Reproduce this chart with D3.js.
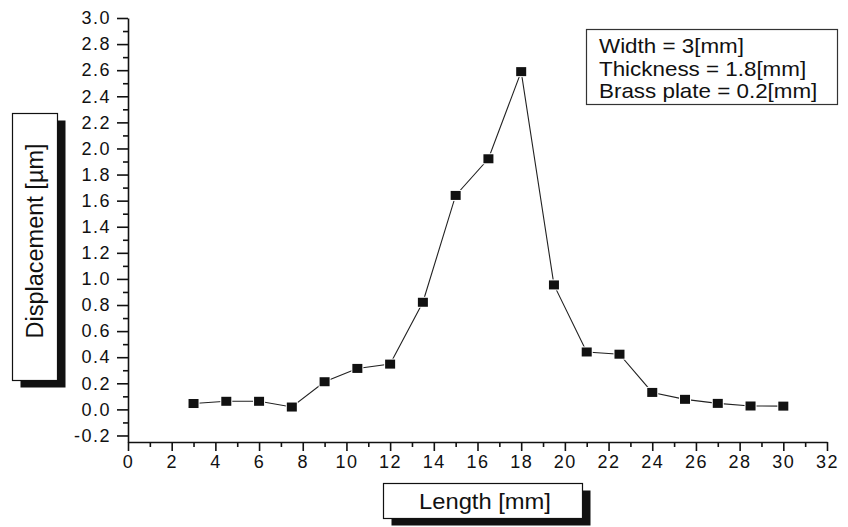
<!DOCTYPE html>
<html>
<head>
<meta charset="utf-8">
<script src="https://cdn.jsdelivr.net/npm/d3@7"></script>
<style>
  html, body { margin: 0; padding: 0; background: #fff; }
  svg { display: block; font-family: "Liberation Sans", Arial, Helvetica, sans-serif; }
</style>
</head>
<body>
<div id="vis"></div>
<script>
// data
var lengths = [3, 4.5, 6, 7.5, 9, 10.5, 12, 13.5, 15, 16.5, 18, 19.5, 21, 22.5, 24, 25.5, 27, 28.5, 30];
var displacements = [0.045, 0.062, 0.062, 0.018, 0.212, 0.314, 0.347, 0.821, 1.64, 1.921, 2.589, 0.954, 0.44, 0.423, 0.13, 0.077, 0.046, 0.026, 0.025];

var xTicks = d3.range(0, 33, 2);
var xMinorTicks = d3.range(1, 32, 2);
var yTicks = [-0.2, 0.0, 0.2, 0.4, 0.6, 0.8, 1.0, 1.2, 1.4, 1.6, 1.8, 2.0, 2.2, 2.4, 2.6, 2.8, 3.0];
var yMinorTicks = [-0.1, 0.1, 0.3, 0.5, 0.7, 0.9, 1.1, 1.3, 1.5, 1.7, 1.9, 2.1, 2.3, 2.5, 2.7, 2.9];

var xTitle = 'Length [mm]';
var yTitle = 'Displacement [\u00b5m]';
var legendLines = ['Width = 3[mm]', 'Thickness = 1.8[mm]', 'Brass plate = 0.2[mm]'];

// layout
var width = 848;
var height = 527;
var margin = { top: 18, left: 128, bottom: 85, right: 21 };

var svg = d3.select('#vis').append('svg')
  .attr('width', width)
  .attr('height', height);

var x = d3.scaleLinear()
  .domain([0, 32])
  .range([margin.left, width - margin.right]);
var y = d3.scaleLinear()
  .domain([-0.25, 3.0])
  .range([height - margin.bottom, margin.top]);

var fmt = function (d) { return d.toFixed(1).replace('\u2212', '-'); };

// x axis
svg.append('g')
  .attr('transform', 'translate(0,' + y.range()[0] + ')')
  .call(d3.axisBottom(x).tickValues(xTicks).tickSize(9).tickPadding(4).tickSizeOuter(0));
svg.append('g')
  .attr('transform', 'translate(0,' + y.range()[0] + ')')
  .call(d3.axisBottom(x).tickValues(xMinorTicks).tickSize(5).tickFormat('').tickSizeOuter(0))
  .select('.domain').remove();

// y axis
svg.append('g')
  .attr('transform', 'translate(' + x.range()[0] + ',0)')
  .call(d3.axisLeft(y).tickValues(yTicks).tickSize(11).tickPadding(6).tickFormat(fmt).tickSizeOuter(0));
svg.append('g')
  .attr('transform', 'translate(' + x.range()[0] + ',0)')
  .call(d3.axisLeft(y).tickValues(yMinorTicks).tickSize(5).tickFormat('').tickSizeOuter(0))
  .select('.domain').remove();

svg.selectAll('.domain, .tick line')
  .attr('stroke', '#111')
  .attr('stroke-width', 1.6);
svg.selectAll('.tick text')
  .attr('fill', '#111')
  .style('font-size', '18px')
  .style('letter-spacing', '1.5px');

// line + markers
var pts = lengths.map(function (d, i) { return [d, displacements[i]]; });
var line = d3.line()
  .x(function (d) { return x(d[0]); })
  .y(function (d) { return y(d[1]); });

svg.append('path')
  .datum(pts)
  .attr('d', line)
  .attr('fill', 'none')
  .attr('stroke', '#222')
  .attr('stroke-width', 1.1);

svg.selectAll('.marker')
  .data(pts)
  .enter().append('rect')
  .attr('class', 'marker')
  .attr('x', function (d) { return x(d[0]) - 5; })
  .attr('y', function (d) { return y(d[1]) - 4.5; })
  .attr('width', 10)
  .attr('height', 9)
  .attr('fill', '#111')
  .attr('stroke', '#fff')
  .attr('stroke-width', 2)
  .style('paint-order', 'stroke');

// framed titles with drop shadow
function shadowBox(bx, by, bw, bh) {
  svg.append('rect')
    .attr('x', bx + 8).attr('y', by + 7)
    .attr('width', bw).attr('height', bh)
    .attr('fill', '#111');
  svg.append('rect')
    .attr('x', bx).attr('y', by)
    .attr('width', bw).attr('height', bh)
    .attr('fill', '#fff')
    .attr('stroke', '#111')
    .attr('stroke-width', 1.2);
}

shadowBox(12.5, 113.5, 45, 267);
svg.append('text')
  .attr('transform', 'translate(43,241) rotate(-90)')
  .attr('text-anchor', 'middle')
  .attr('fill', '#111')
  .style('font-size', '23.5px')
  .text(yTitle);

shadowBox(383.5, 483.5, 199, 35);
svg.append('text')
  .attr('transform', 'translate(485,509) scale(1.08,1)')
  .attr('text-anchor', 'middle')
  .attr('fill', '#111')
  .style('font-size', '22px')
  .text(xTitle);

// note box
svg.append('rect')
  .attr('x', 586.5).attr('y', 29.5)
  .attr('width', 251).attr('height', 75)
  .attr('fill', '#fff')
  .attr('stroke', '#333')
  .attr('stroke-width', 1.2);
svg.selectAll('.note')
  .data(legendLines)
  .enter().append('text')
  .attr('class', 'note')
  .attr('transform', function (d, i) { return 'translate(599,' + (53 + i * 22.5) + ') scale(1.12,1)'; })
  .attr('fill', '#111')
  .style('font-size', '20px')
  .text(function (d) { return d; });
</script>
</body>
</html>
